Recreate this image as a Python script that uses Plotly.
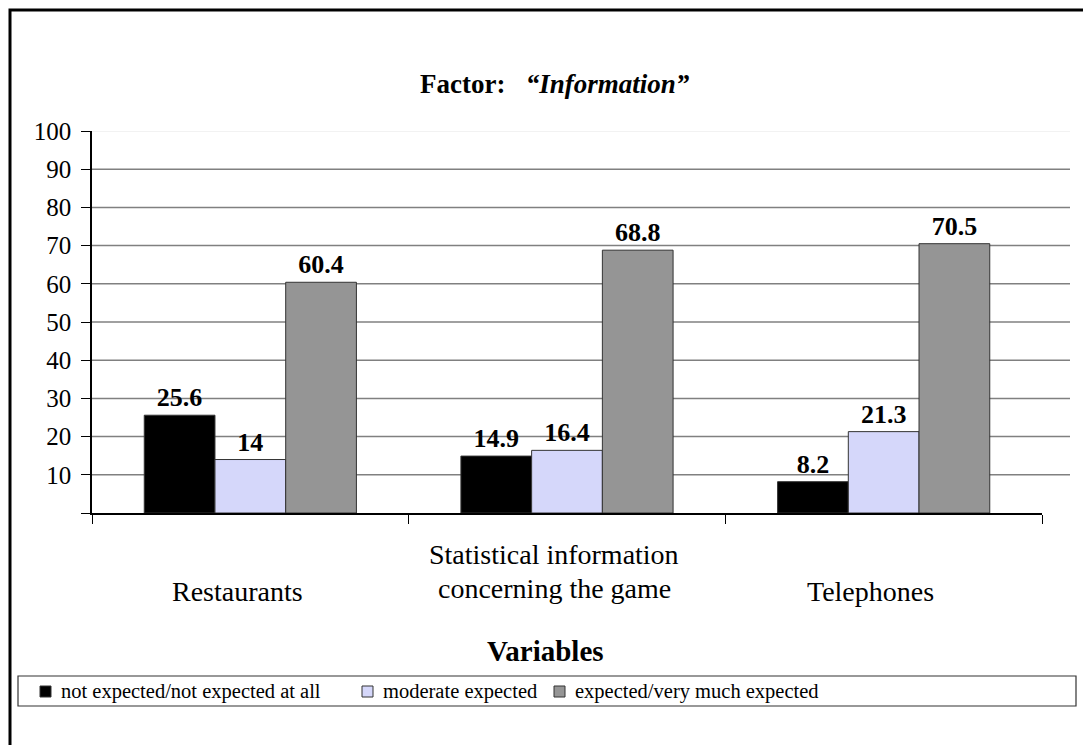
import plotly.graph_objects as go

categories = ["Restaurants", "Statistical information concerning the game", "Telephones"]
series_names = ["not expected/not expected at all", "moderate expected", "expected/very much expected"]
not_expected = [25.6, 14.9, 8.2]
moderate = [14, 16.4, 21.3]
expected = [60.4, 68.8, 70.5]
y_ticks = [0, 10, 20, 30, 40, 50, 60, 70, 80, 90, 100]
colors = ["#000000", "#D5D7FA", "#959595"]

FONT = "Liberation Serif"
OFF = 8  # page body margin
W, H = 1091 - OFF, 745 - OFF
# plot area in page px
L, R, T, B = 92, 1042, 131, 513


def px_x(px):
    return (px - L) / (R - L)


def px_y(py):
    return (B - py) / (B - T)


fig = go.Figure()
for name, vals, col in zip(series_names, [not_expected, moderate, expected], colors):
    fig.add_trace(go.Bar(
        x=categories, y=vals, name=name,
        marker=dict(color=col, line=dict(color="#333333", width=1)),
        text=[f"{v:g}" for v in vals], textposition="outside",
        textfont=dict(family=FONT, size=26, color="black", weight="bold"),
        cliponaxis=False, showlegend=False,
    ))

shapes = []
for v in y_ticks[1:]:
    shapes.append(dict(type="line", xref="paper", yref="y", x0=0, x1=px_x(1070), y0=v, y1=v,
                       line=dict(color="#EEEEEE" if v == 100 else "#808080", width=1.5), layer="below"))
# outer border (left and top)
shapes.append(dict(type="path", xref="paper", yref="paper",
                   path=f"M {px_x(10)} {px_y(760)} L {px_x(10)} {px_y(10)} L {px_x(1100)} {px_y(10)}",
                   line=dict(color="black", width=3)))
# legend box
shapes.append(dict(type="rect", xref="paper", yref="paper",
                   x0=px_x(18), x1=px_x(1076), y0=px_y(676), y1=px_y(706),
                   line=dict(color="#333333", width=1.2), fillcolor="white"))

annotations = []
leg_sq = [40, 362, 554]
for sx, name, col in zip(leg_sq, series_names, colors):
    shapes.append(dict(type="rect", xref="paper", yref="paper",
                       x0=px_x(sx), x1=px_x(sx + 11), y0=px_y(697), y1=px_y(686),
                       line=dict(color="#333333", width=1), fillcolor=col))
    annotations.append(dict(x=px_x(sx + 19), y=px_y(691), xref="paper", yref="paper",
                            text=name, showarrow=False, xanchor="left", yanchor="middle",
                            font=dict(family=FONT, size=20.5, color="black")))

cat_lines = [(categories[0], ["Restaurants"], [591]),
             (categories[1], ["Statistical information", "concerning the game"], [554, 588]),
             (categories[2], ["Telephones"], [591])]
for cat, lines, ys in cat_lines:
    for ln, yy in zip(lines, ys):
        annotations.append(dict(x=cat, y=px_y(yy), xref="x", yref="paper", text=ln,
                                showarrow=False, yanchor="middle", xshift=-13,
                                font=dict(family=FONT, size=28, color="black")))

annotations.append(dict(x=px_x(545), y=px_y(651), xref="paper", yref="paper", text="<b>Variables</b>",
                        showarrow=False, yanchor="middle", font=dict(family=FONT, size=29, color="black")))
annotations.append(dict(x=px_x(555), y=px_y(84), xref="paper", yref="paper",
                        text="<b>Factor:</b>   <b><i>\u201cInformation\u201d</i></b>",
                        showarrow=False, yanchor="middle", font=dict(family=FONT, size=27, color="black")))

fig.update_layout(
    width=W, height=H,
    margin=dict(l=L - OFF, r=W - (R - OFF), t=T - OFF, b=H - (B - OFF), autoexpand=False),
    paper_bgcolor="white", plot_bgcolor="white",
    barmode="group", bargap=0.33, bargroupgap=0,
    shapes=shapes, annotations=annotations,
    font=dict(family=FONT, color="black"),
    xaxis=dict(showticklabels=False, tickson="boundaries", ticks="outside", ticklen=9,
               tickcolor="black", showline=True, linecolor="black", linewidth=1.5,
               showgrid=False, zeroline=False),
    yaxis=dict(range=[0, 100], tickvals=y_ticks, ticktext=["" if v == 0 else str(v) for v in y_ticks],
               ticks="outside", ticklen=9, tickcolor="black", showline=True, linecolor="black",
               linewidth=1.5, showgrid=False, zeroline=False, ticklabelstandoff=5,
               tickfont=dict(family=FONT, size=25, color="black")),
)

fig.write_html("out.html")
